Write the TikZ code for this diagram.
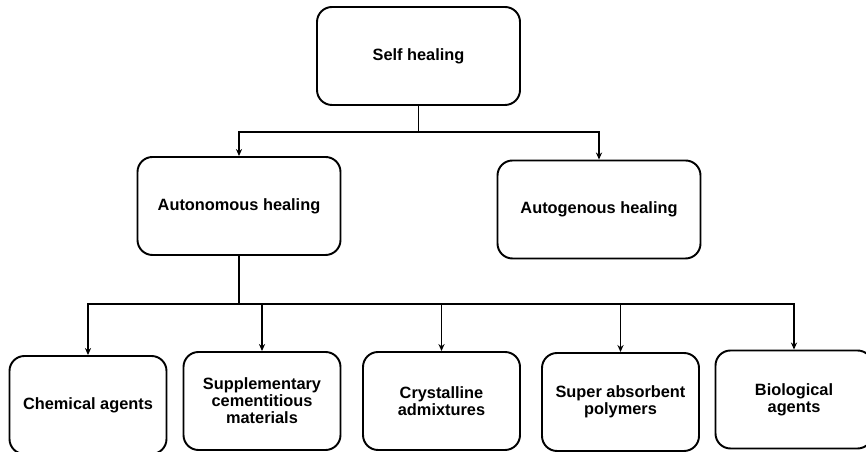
\documentclass[tikz,border=0pt]{standalone}
\usepackage{fontspec}
\setmainfont{Liberation Sans}
\usetikzlibrary{arrows.meta}

\tikzset{
	box/.style={draw, line width=1.1pt, rounded corners=0.3cm, align=center, font=\fontsize{9.3}{9.6}\selectfont\bfseries, inner sep=0pt},
	bigbox/.style={box, minimum width=4.06cm, minimum height=1.96cm},
	smallbox/.style={box, minimum width=3.14cm, minimum height=1.96cm},
	link/.style={line width=1.1pt, -{Stealth[length=4pt,width=3.5pt]}}
}

\begin{document}
\begin{tikzpicture}
			%%%%% START %%%%%
			\useasboundingbox (0, 0) rectangle (17.32, 9.04);
			
			\node[bigbox] (self) at (8.37, 7.92) {Self healing};
			
			\node[bigbox] (auton) at (4.78, 4.92) {Autonomous healing};
			\node[bigbox] (autog) at (11.98, 4.85) {Autogenous healing};
			
			\node[smallbox] (chem) at (1.76, 0.94) {Chemical agents};
			\node[smallbox] (supp) at (5.24, 1.02) {Supplementary\\cementitious\\materials};
			\node[smallbox] (cryst) at (8.83, 1.02) {Crystalline\\admixtures};
			\node[smallbox] (sap) at (12.41, 1.00) {Super absorbent\\polymers};
			\node[smallbox] (bio) at (15.88, 1.05) {Biological\\agents};
			
			% first level
			\coordinate (j1) at (8.37, 6.4);
			\draw[line width=1.1pt] (self.south) -- (j1);
			\draw[link] (j1) -| (auton.north);
			\draw[link] (j1) -| (autog.north);
			
			% second level
			\coordinate (j2) at (4.78, 2.96);
			\draw[line width=1.1pt] (auton.south) -- (j2);
			\foreach \n in {chem, supp, cryst, sap, bio}
				\draw[link] (j2) -| (\n.north);
			
			%%%%% END %%%%%
\end{tikzpicture}
\end{document}
